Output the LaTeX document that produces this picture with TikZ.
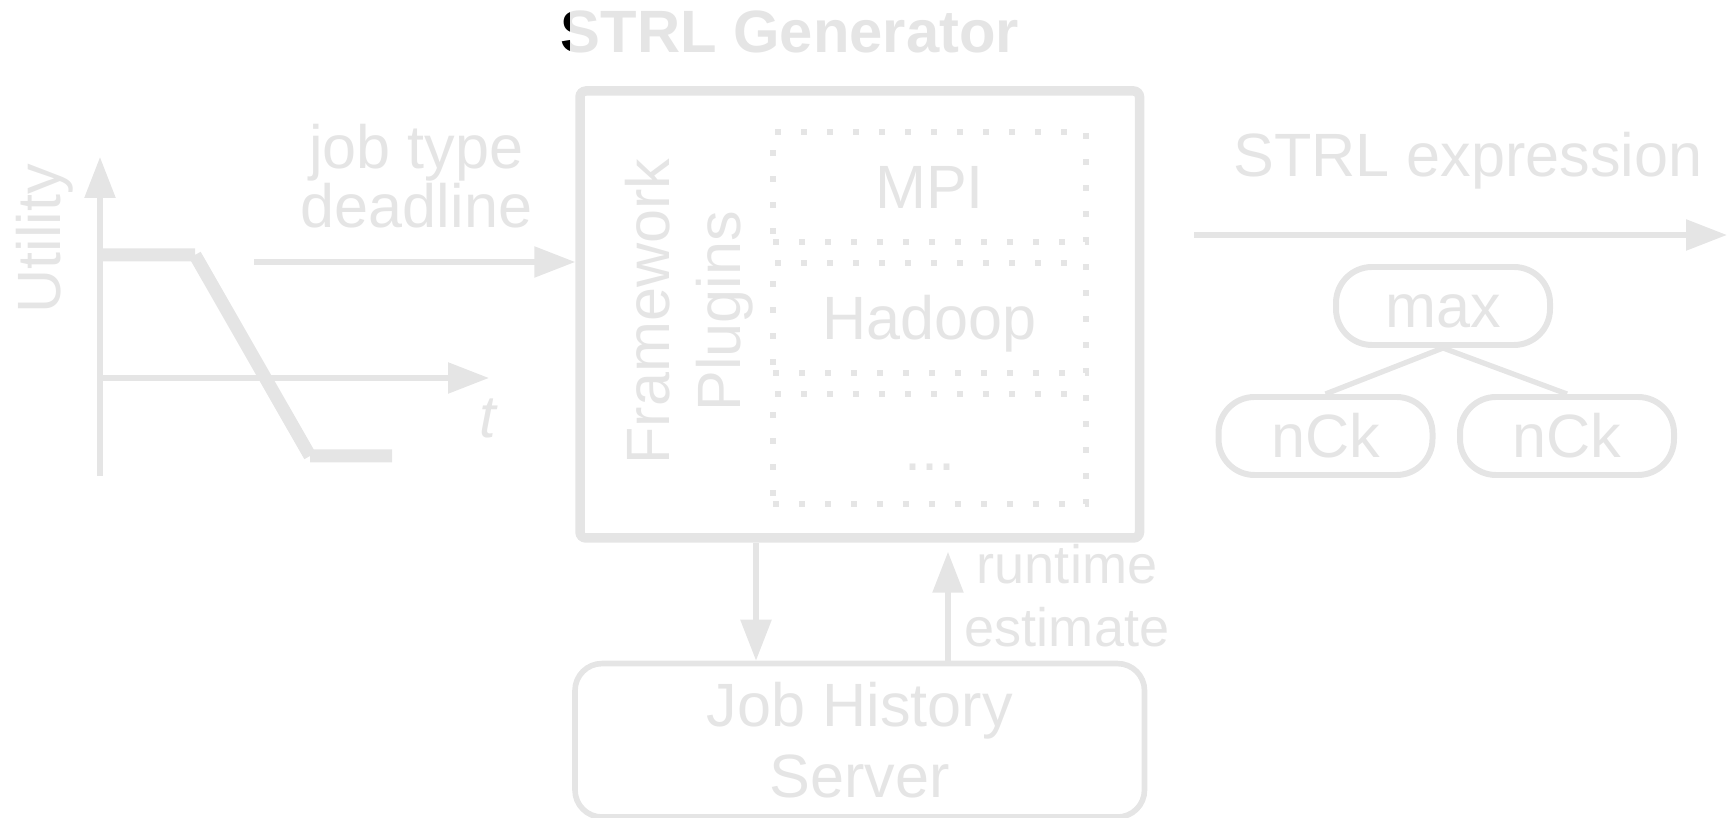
\documentclass[tikz,border=0pt]{standalone}
\usepackage{fontspec}
\setmainfont{Liberation Sans}
\usepackage{tikz}
\usetikzlibrary{arrows.meta,positioning}
\definecolor{fade}{RGB}{229,229,229}

\begin{document}
\begin{tikzpicture}[color=fade, every node/.style={inner sep=0pt},
txt/.style={font=\fontsize{17.4}{20.2}\selectfont},
arr/.style={-{Triangle[length=4.1mm,width=3mm]},line width=1.6pt},
plugin/.style={draw,txt,line width=1.7pt,dash pattern=on 0.6mm off 2mm,
  minimum width=3.13cm,minimum height=1.10cm,text height=12.5pt,text depth=0pt},
term/.style={draw,txt,line width=1.7pt,rounded corners=3.6mm,
  minimum width=2.14cm,minimum height=0.78cm,text height=12.5pt,text depth=0pt}]
\useasboundingbox (0,0) rectangle (17.29,-8.18);

% utility curve
\draw[arr] (1.00,-4.76) -- (1.00,-1.57);
\draw[arr] (0.97,-3.78) -- (4.89,-3.78);
\draw[line width=3.7pt] (1.00,-2.55) -- (1.95,-2.55) (1.95,-2.55) -- (3.10,-4.56) (3.10,-4.56) -- (3.92,-4.56);
\node[txt,rotate=90] (util) at (0.45,-2.39) {Utility};
\node[font=\itshape\fontsize{17}{20}\selectfont] (tlab) at (4.88,-4.18) {t};

% generator
\node[draw,line width=2.7pt,rounded corners=0.6mm,minimum width=5.595cm,minimum height=4.47cm] (gen) at (8.5975,-3.145) {};
\node[anchor=base,font=\bfseries\fontsize{17}{20}\selectfont] (title) at (7.90,-0.53) {STRL Generator};
\begin{scope}
  \clip (5.4,0) rectangle (5.69,-0.8);
  \node[anchor=base,black,font=\bfseries\fontsize{17}{20}\selectfont] at (7.90,-0.53) {STRL Generator};
\end{scope}
\node[txt,rotate=90,align=center] (fw) at (6.89,-3.115) {Framework\\Plugins};
\node[plugin] (mpi) at (9.295,-1.87) {MPI};
\node[plugin,below=1.5mm of mpi] (hadoop) {Hadoop};
\node[plugin,below=1.5mm of hadoop] (more) {...};

% input
\coordinate (jobin) at (2.54,-2.62);
\node[align=center,font=\fontsize{17.4}{16.8}\selectfont] (joblab) at (4.165,-1.763) {job type\\deadline};
\draw[arr] (jobin) -- (jobin -| gen.west);

% output expression
\coordinate (strlfrom) at (11.94,-2.35);
\coordinate (strlto) at (17.27,-2.35);
\draw[arr] (strlfrom) -- (strlto);
\node[txt,anchor=base] (strllab) at (14.68,-1.77) {STRL expression};
\node[term] (max) at (14.43,-3.06) {max};
\node[term] (nckl) at (13.255,-4.36) {nCk};
\node[term] (nckr) at (15.67,-4.36) {nCk};
\draw[line width=1.5pt] (max.south) -- (nckl.north);
\draw[line width=1.5pt] (max.south) -- (nckr.north);

% job history
\node[draw,txt,line width=1.6pt,rounded corners=2.7mm,minimum width=5.695cm,minimum height=1.535cm,
  align=center,below=1.18cm of gen] (hist) {Job History\\Server};
\coordinate (qdown) at (7.56,0);
\coordinate (qup) at (9.48,0);
\draw[arr] (qdown |- gen.south) -- (qdown |- hist.north);
\draw[arr,shorten >=0.9mm] (qup |- hist.north) -- (qup |- gen.south);
\node[align=center,font=\fontsize{15.4}{17.9}\selectfont] (rtlab) at (10.67,-5.96) {runtime\\estimate};
\end{tikzpicture}
\end{document}
